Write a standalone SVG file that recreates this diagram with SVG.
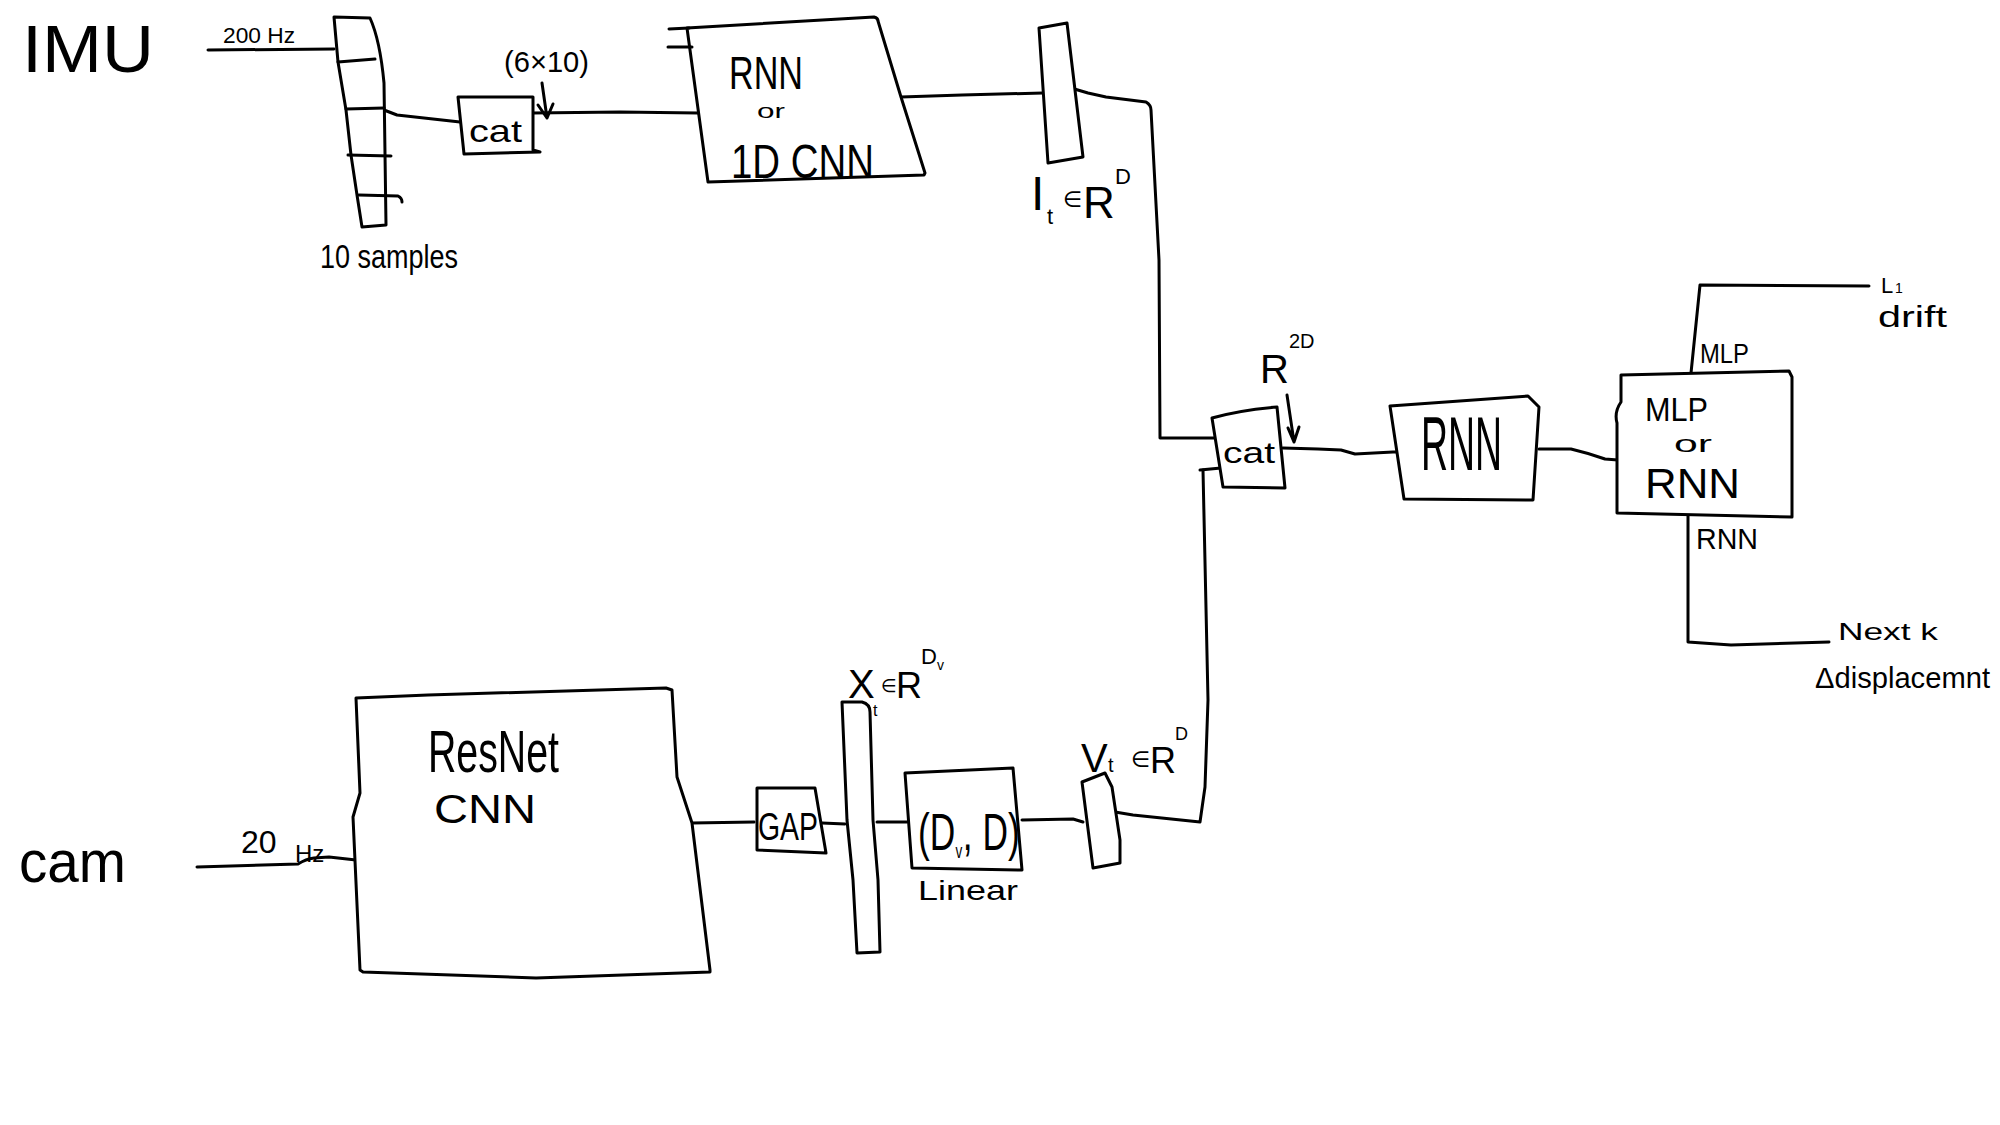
<svg xmlns="http://www.w3.org/2000/svg" width="2000" height="1125" viewBox="0 0 2000 1125">
  <style>
    .s { fill: none; stroke: #000; stroke-width: 3; stroke-linejoin: round; stroke-linecap: round; }
    .b { fill: #fff; stroke: #000; stroke-width: 3; stroke-linejoin: round; stroke-linecap: round; }
    text { font-family: "Liberation Sans", "DejaVu Sans", sans-serif; fill: #000; }
  </style>
  <rect width="2000" height="1125" fill="#fff"/>

  <!-- connectors -->
  <g id="connectors" class="s">
    <path d="M208,50 L334,49"/>
    <path d="M384,110 L397,115 L460,122"/>
    <path d="M533,113 L620,112 L698,113"/>
    <path d="M901,97 L962,95 L1043,93"/>
    <path d="M1071,88 L1088,93 L1106,97 L1146,102 Q1151,105 1151,110 L1159,260 L1160,438 L1215,438"/>
    <path d="M1115,812 L1133,815 L1200,822 L1205,787 L1208,700 L1203,470"/>
    <path d="M1200,470 L1221,468"/>
    <path d="M1283,448 L1318,449 L1341,450 L1355,454 L1393,452 L1398,452"/>
    <path d="M1539,449 L1571,449 Q1588,453 1605,459 L1618,460"/>
    <path d="M1691,373 L1700,285 L1869,286"/>
    <path d="M1688,513 L1688,642 L1731,645 L1829,642"/>
    <path d="M197,867 L298,864 Q306,859 314,858 L329,857 L356,860"/>
    <path d="M692,823 L754,822"/>
    <path d="M822,823 L845,824"/>
    <path d="M877,822 L907,822"/>
    <path d="M1022,820 L1073,819 L1083,822"/>
    <!-- shape callouts -->
    <path d="M542,83 L547,118 M538,105 L547,118 L553,104"/>
    <path d="M1287,395 L1294,442 M1288,428 L1294,442 L1299,427"/>
  </g>

  <!-- IMU input -->
  <g id="imu">
    <text x="22" y="72" font-size="66" textLength="132" lengthAdjust="spacingAndGlyphs">IMU</text>
    <text x="223" y="43" font-size="22" textLength="72" lengthAdjust="spacingAndGlyphs">200 Hz</text>
  </g>

  <!-- buffered window of IMU samples -->
  <g id="imu-window">
    <path class="b" d="M334,17 L370,18 Q380,40 384,83 L386,225 L362,227 L357,195 L351,155 L346,110 L338,62 Z"/>
    <path class="s" d="M338,62 L375,59 M346,109 L384,108 M348,155 L391,156 M359,195 L398,196 Q402,198 402,202"/>
    <text x="320" y="268" font-size="34" textLength="138" lengthAdjust="spacingAndGlyphs">10 samples</text>
  </g>

  <!-- concatenation of the window -->
  <g id="imu-cat">
    <path class="b" d="M458,97 L533,97 L533,150 L540,152 L464,154 Z"/>
    <text x="469" y="142" font-size="32" textLength="53" lengthAdjust="spacingAndGlyphs">cat</text>
    <text x="504" y="72" font-size="30" textLength="85" lengthAdjust="spacingAndGlyphs">(6×10)</text>
  </g>

  <!-- IMU encoder -->
  <g id="imu-encoder">
    <path class="b" d="M687,28 L874,17 Q878,18 878,21 L901,97 L925,173 L924,175 L708,182 Z"/>
    <path class="s" d="M669,29 L689,28 M668,47 L692,47"/>
    <text x="729" y="89" font-size="46" textLength="74" lengthAdjust="spacingAndGlyphs">RNN</text>
    <text x="757" y="118" font-size="21" textLength="28" lengthAdjust="spacingAndGlyphs">or</text>
    <text x="731" y="178" font-size="48" textLength="143" lengthAdjust="spacingAndGlyphs">1D CNN</text>
  </g>

  <!-- IMU feature I_t -->
  <g id="imu-feature">
    <path class="b" d="M1039,28 L1067,23 L1083,157 L1048,163 Z"/>
    <text><tspan x="1031" y="210" font-size="48">I</tspan><tspan x="1047" y="224" font-size="22">t</tspan><tspan x="1063" y="207" font-size="22">∈</tspan><tspan x="1083" y="218" font-size="44">R</tspan><tspan x="1115" y="184" font-size="22">D</tspan></text>
  </g>

  <!-- camera input -->
  <g id="cam">
    <text x="19" y="882" font-size="60" textLength="107" lengthAdjust="spacingAndGlyphs">cam</text>
    <text><tspan x="241" y="853" font-size="32">20</tspan><tspan x="295" y="862" font-size="24">Hz</tspan></text>
  </g>

  <!-- image encoder -->
  <g id="resnet">
    <path class="b" d="M356,698 L428,695 L666,688 L672,690 L677,777 L692,823 L710,970 L710,972 L536,978 L363,972 L360,970 L353,817 L360,793 Z"/>
    <text x="428" y="772" font-size="60" textLength="131" lengthAdjust="spacingAndGlyphs">ResNet</text>
    <text x="434" y="823" font-size="40" textLength="102" lengthAdjust="spacingAndGlyphs">CNN</text>
  </g>

  <!-- global average pooling -->
  <g id="gap">
    <path class="b" d="M757,788 L815,788 L826,853 L757,850 Z"/>
    <text x="758" y="840" font-size="38" textLength="60" lengthAdjust="spacingAndGlyphs">GAP</text>
  </g>

  <!-- pooled image feature X_t -->
  <g id="img-feature">
    <path class="b" d="M842,702 L862,702 Q870,704 870,712 L873,820 L878,880 L880,952 L857,953 L853,880 L847,820 Z"/>
    <text><tspan x="848" y="698" font-size="40">X</tspan><tspan x="873" y="716" font-size="16">t</tspan><tspan x="881" y="692" font-size="18">∈</tspan><tspan x="896" y="698" font-size="36">R</tspan><tspan x="921" y="664" font-size="22">D</tspan><tspan x="937" y="670" font-size="14">v</tspan></text>
  </g>

  <!-- linear projection -->
  <g id="linear">
    <path class="b" d="M905,773 L1013,768 L1022,870 L912,868 Z"/>
    <text transform="translate(918,850) scale(0.68,1)"><tspan x="0" y="0" font-size="52">(D</tspan><tspan x="55" y="8" font-size="20">v</tspan><tspan x="66" y="0" font-size="52">, D)</tspan></text>
    <text x="918" y="900" font-size="28" textLength="100" lengthAdjust="spacingAndGlyphs">Linear</text>
  </g>

  <!-- projected image feature V_t -->
  <g id="vis-feature">
    <path class="b" d="M1082,782 L1105,773 L1112,787 L1120,840 L1120,863 L1093,868 Z"/>
    <text><tspan x="1081" y="772" font-size="40">V</tspan><tspan x="1108" y="772" font-size="20">t</tspan><tspan x="1131" y="767" font-size="22">∈</tspan><tspan x="1150" y="773" font-size="36">R</tspan><tspan x="1175" y="740" font-size="18">D</tspan></text>
  </g>

  <!-- fusion by concatenation -->
  <g id="fuse-cat">
    <path class="b" d="M1212,418 Q1240,410 1277,407 L1285,488 L1223,487 Z"/>
    <text x="1223" y="463" font-size="30" textLength="52" lengthAdjust="spacingAndGlyphs">cat</text>
    <text><tspan x="1260" y="383" font-size="40">R</tspan><tspan x="1289" y="348" font-size="20">2D</tspan></text>
  </g>

  <!-- temporal model -->
  <g id="rnn">
    <path class="b" d="M1390,406 L1528,396 L1539,407 L1533,500 L1404,499 Z"/>
    <text x="1421" y="470" font-size="76" textLength="81" lengthAdjust="spacingAndGlyphs">RNN</text>
  </g>

  <!-- output heads -->
  <g id="head">
    <path class="b" d="M1621,375 L1789,371 L1792,377 L1792,517 L1617,513 L1617,423 Q1614,412 1621,402 Z"/>
    <text x="1645" y="421" font-size="34" textLength="63" lengthAdjust="spacingAndGlyphs">MLP</text>
    <text x="1674" y="452" font-size="24" textLength="38" lengthAdjust="spacingAndGlyphs">or</text>
    <text x="1645" y="498" font-size="43" textLength="95" lengthAdjust="spacingAndGlyphs">RNN</text>
  </g>

  <g id="drift-out">
    <text x="1700" y="363" font-size="28" textLength="49" lengthAdjust="spacingAndGlyphs">MLP</text>
    <text><tspan x="1881" y="293" font-size="22">L</tspan><tspan x="1895" y="293" font-size="14">1</tspan></text>
    <text x="1878" y="327" font-size="30" textLength="69" lengthAdjust="spacingAndGlyphs">drift</text>
  </g>

  <g id="displacement-out">
    <text x="1696" y="549" font-size="30" textLength="62" lengthAdjust="spacingAndGlyphs">RNN</text>
    <text x="1838" y="640" font-size="24" textLength="100" lengthAdjust="spacingAndGlyphs">Next k</text>
    <text x="1815" y="688" font-size="30" textLength="175" lengthAdjust="spacingAndGlyphs">Δdisplacemnt</text>
  </g>
</svg>
